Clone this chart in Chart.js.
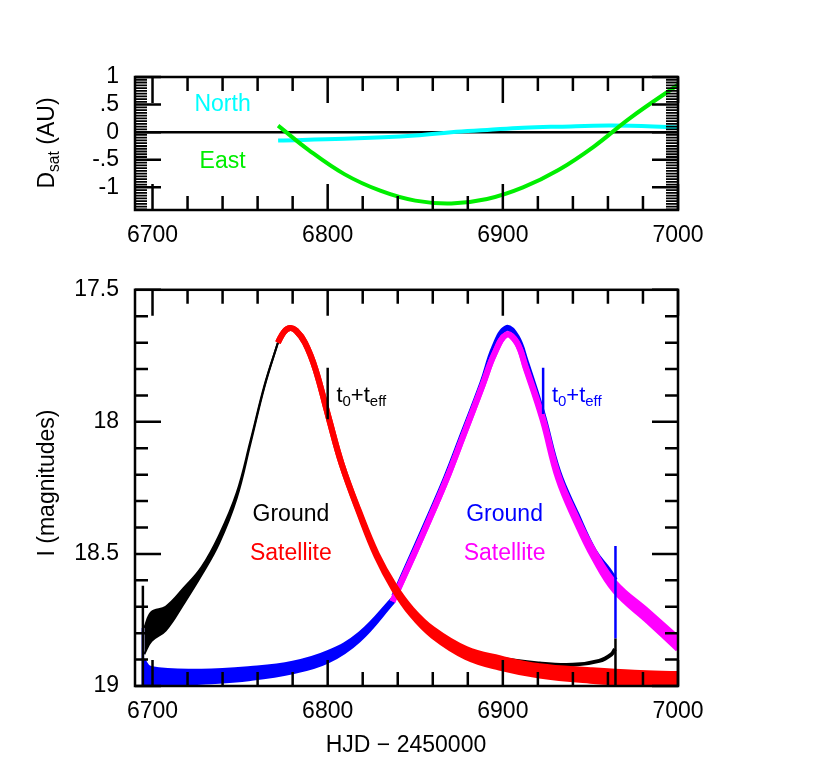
<!DOCTYPE html>
<html>
<head>
<meta charset="utf-8">
<script src="https://cdn.jsdelivr.net/npm/chart.js@4"></script>
<style>
  body { margin: 0; background: #fff; }
  #wrap { position: relative; width: 830px; height: 782px; }
  canvas { position: absolute; left: 0; }
</style>
</head>
<body>
<div id="wrap">
  <canvas id="topChart" style="top:0" width="830" height="260"></canvas>
  <canvas id="lightChart" style="top:260px" width="830" height="522"></canvas>
</div>
<script>
"use strict";

const FONT = "'Liberation Sans', Arial, sans-serif";

// ---- top panel: satellite offset (AU) ----
const satX      = [6771.7, 6789, 6809.5, 6830, 6850, 6870.6, 6891, 6911.5, 6932, 6952, 6972.8, 7000];
const eastAU    = [0.12, -0.32, -0.76, -1.06, -1.24, -1.29, -1.21, -1.0, -0.68, -0.26, 0.26, 0.86];
const northX    = [6771.7, 6809.5, 6850, 6870.6, 6891, 6911.5, 6932, 6962, 7000];
const northAU   = [-0.15, -0.12, -0.06, 0.0, 0.04, 0.08, 0.1, 0.12, 0.09];
const topYTicks = [1, 0.5, 0, -0.5, -1];
const topYLabels = ["1", ".5", "0", "-.5", "-1"];

// ---- bottom panel: light curves (I mag), band edges ----
const xTicks = [6700, 6800, 6900, 7000];
const magTicks = [17.5, 18, 18.5, 19];
const magLabels = ["17.5", "18", "18.5", "19"];

const blackLeftX     = [6695.3, 6699.4, 6707.5, 6717.7, 6728, 6738, 6748, 6756, 6764, 6771.6];
const blackLeftUpper = [18.78, 18.72, 18.70, 18.63, 18.55, 18.43, 18.27, 18.07, 17.86, 17.70];
const blackLeftLower = [18.88, 18.83, 18.79, 18.69, 18.58, 18.46, 18.29, 18.08, 17.865, 17.70];
const blackRightX    = [6800.4, 6808, 6818, 6828, 6838, 6848, 6860, 6879, 6898, 6921, 6940, 6955, 6962, 6964];
const blackRightMag  = [17.98, 18.16, 18.34, 18.50, 18.62, 18.71, 18.785, 18.86, 18.895, 18.915, 18.92, 18.905, 18.88, 18.86];

const redX     = [6771.6, 6775, 6778.5, 6782, 6787, 6793, 6800.4, 6808, 6818, 6828, 6838, 6848, 6860, 6879, 6898, 6921, 6950, 6975, 7000];
const redUpper = [17.70, 17.66, 17.645, 17.655, 17.70, 17.80, 17.98, 18.16, 18.34, 18.50, 18.62, 18.71, 18.785, 18.86, 18.895, 18.925, 18.94, 18.95, 18.955];
const redLower = [17.70, 17.66, 17.645, 17.655, 17.70, 17.80, 17.98, 18.16, 18.345, 18.51, 18.635, 18.73, 18.81, 18.89, 18.93, 18.96, 18.98, 18.99, 19.0];

const blueLeftX     = [6695, 6699, 6728, 6756, 6780, 6800, 6818, 6838];
const blueLeftUpper = [18.9, 18.93, 18.94, 18.93, 18.91, 18.87, 18.80, 18.66];
const blueLeftLower = [19.0, 19.0, 18.99, 18.975, 18.95, 18.91, 18.83, 18.68];
const blueRightX    = [6838, 6848.7, 6858, 6867.7, 6877, 6888.5, 6895, 6902, 6908, 6913, 6922.6, 6931.6, 6942, 6952, 6960, 6964];
const blueRightMag  = [18.66, 18.50, 18.36, 18.21, 18.05, 17.85, 17.72, 17.645, 17.68, 17.77, 17.97, 18.19, 18.35, 18.49, 18.56, 18.6];

const magX     = [6837, 6848.7, 6858, 6867.7, 6877, 6888.5, 6895, 6902, 6908, 6913, 6922.6, 6931.6, 6942, 6952, 6964, 6983, 7000];
const magUpper = [18.68, 18.51, 18.37, 18.22, 18.06, 17.86, 17.745, 17.67, 17.70, 17.79, 17.98, 18.20, 18.36, 18.49, 18.61, 18.72, 18.82];
const magLower = [18.68, 18.51, 18.37, 18.22, 18.06, 17.86, 17.745, 17.67, 17.70, 17.795, 17.99, 18.215, 18.38, 18.515, 18.64, 18.755, 18.86];

// vertical marks: [x, magFrom, magTo]
const blackSpikes = [[6694.5, 18.62, 19.0], [6964.3, 18.82, 19.0], [6800, 17.795, 17.99]];
const blueSpikes  = [[6694.5, 18.78, 19.0], [6964.3, 18.47, 18.82], [6923, 17.795, 17.97]];

const pts = (xs, ys) => xs.map((x, i) => ({ x, y: ys[i] }));

function curve(data, color, width, order, extra = {}) {
  return Object.assign({
    data, order, borderColor: color, backgroundColor: color, borderWidth: width,
    pointRadius: 0, showLine: true, tension: 0.4, fill: false,
  }, extra);
}

function spikeSets(list, color) {
  return list.map(([x, a, b]) => curve([{ x, y: a }, { x, y: b }], color, 2.5, 0, { tension: 0 }));
}

// inward tick marks + frame drawn on the library's scales
function frameTicks(opts) {
  return {
    id: "frameTicks",
    afterDatasetsDraw(chart) {
      const { ctx, chartArea: a, scales } = chart;
      ctx.save();
      ctx.strokeStyle = "#000";
      const xs = scales.x, ys = scales.y;
      const tickX = (v, len) => {
        const p = xs.getPixelForValue(v);
        ctx.beginPath();
        ctx.moveTo(p, a.bottom); ctx.lineTo(p, a.bottom - len);
        ctx.moveTo(p, a.top); ctx.lineTo(p, a.top + len);
        ctx.stroke();
      };
      const tickY = (v, len) => {
        const p = ys.getPixelForValue(v);
        ctx.beginPath();
        ctx.moveTo(a.left, p); ctx.lineTo(a.left + len, p);
        ctx.moveTo(a.right, p); ctx.lineTo(a.right - len, p);
        ctx.stroke();
      };
      ctx.lineWidth = 2.5;
      for (let v = opts.xStart; v <= xs.max + 1e-6; v += opts.xMinor) {
        const major = Math.abs(v / opts.xMajor - Math.round(v / opts.xMajor)) < 1e-6;
        tickX(v, major ? opts.majorLen : opts.minorLen);
      }
      const yhi = Math.max(ys.min, ys.max);
      const steps = Math.round((yhi - opts.yStart) / opts.yMinor);
      for (let i = 0; i <= steps; i++) {
        const v = opts.yStart + i * opts.yMinor;
        const major = Math.abs(v / opts.yMajor - Math.round(v / opts.yMajor)) < 1e-6;
        ctx.lineWidth = major ? 2.5 : opts.yMinorWidth;
        tickY(v, major ? opts.majorLen : opts.yMinorLen);
      }
      ctx.lineWidth = 2.5;
      ctx.strokeRect(a.left, a.top, a.right - a.left, a.bottom - a.top);
      ctx.restore();
    },
  };
}

function subText(ctx, parts, x, y, size) {
  let cx = x;
  parts.forEach(([t, sub]) => {
    ctx.font = `${sub ? size * 0.68 : size}px ${FONT}`;
    ctx.fillText(t, cx, sub ? y + size * 0.28 : y);
    cx += ctx.measureText(t).width;
  });
}

function baseScales(yMin, yMax, yTicks, yLabels, reverse) {
  return {
    x: {
      type: "linear", min: 6690, max: 7000,
      afterBuildTicks: (s) => { s.ticks = xTicks.map((v) => ({ value: v })); },
      afterFit: (s) => { s.height = s.chart.height - s.chart.options.plotBottom; },
      grid: { display: false, drawTicks: false }, border: { display: false },
      ticks: { color: "#000", font: { family: FONT, size: 23 }, padding: 12, maxRotation: 0, autoSkip: false,
               callback: (v) => String(v) },
    },
    y: {
      type: "linear", min: yMin, max: yMax, reverse,
      afterBuildTicks: (s) => { s.ticks = yTicks.map((v) => ({ value: v })); },
      afterFit: (s) => { s.width = 135; },
      grid: { display: false, drawTicks: false }, border: { display: false },
      ticks: {
        color: "#000", font: { family: FONT, size: 23 }, padding: 16, autoSkip: false,
        callback: (v) => yLabels[yTicks.indexOf(v)] ?? "",
      },
    },
  };
}

// ---------- top chart ----------
new Chart(document.getElementById("topChart"), {
  type: "scatter",
  data: {
    datasets: [
      curve([{ x: 6690, y: 0 }, { x: 7000, y: 0 }], "#000", 2.5, 2),
      curve(pts(northX, northAU), "#00ffff", 4, 1),
      curve(pts(satX, eastAU), "#00ee00", 4, 0),
    ],
  },
  options: {
    responsive: false, animation: false, plotBottom: 210,
    layout: { padding: { top: 77, right: 152, left: 0, bottom: 0 } },
    plugins: { legend: { display: false }, tooltip: { enabled: false } },
    scales: baseScales(-1.41, 1, topYTicks, topYLabels, false),
  },
  plugins: [
    frameTicks({ xStart: 6700, xMinor: 20, xMajor: 100, yStart: -1.4, yMinor: 0.05, yMajor: 0.5,
                 majorLen: 26, minorLen: 14, yMinorLen: 12, yMinorWidth: 1.8 }),
    {
      id: "topText",
      afterDraw(chart) {
        const { ctx, scales } = chart;
        ctx.save();
        ctx.textAlign = "center"; ctx.textBaseline = "middle";
        ctx.font = `23px ${FONT}`;
        ctx.fillStyle = "#00ffff";
        ctx.fillText("North", scales.x.getPixelForValue(6740), scales.y.getPixelForValue(0.5));
        ctx.fillStyle = "#00ee00";
        ctx.fillText("East", scales.x.getPixelForValue(6740), scales.y.getPixelForValue(-0.53));
        ctx.translate(48, 143);
        ctx.rotate(-Math.PI / 2);
        ctx.fillStyle = "#000";
        ctx.textAlign = "left";
        ctx.font = `23px ${FONT}`;
        const w = ctx.measureText("D").width + ctx.measureText("sat").width * 0.68 + ctx.measureText(" (AU)").width;
        subText(ctx, [["D", false], ["sat", true], [" (AU)", false]], -w / 2, 0, 23);
        ctx.restore();
      },
    },
  ],
});

// ---------- bottom chart ----------
new Chart(document.getElementById("lightChart"), {
  type: "scatter",
  data: {
    datasets: [
      curve(pts(blackLeftX, blackLeftLower), "#000", 2, 3),
      curve(pts(blackLeftX, blackLeftUpper), "#000", 2, 3, { fill: "-1" }),
      curve(pts(blueLeftX, blueLeftLower), "#0000ff", 3, 3),
      curve(pts(blueLeftX, blueLeftUpper), "#0000ff", 3, 3, { fill: "-1" }),
      curve(pts(blackRightX, blackRightMag), "#000", 4, 2),
      curve(pts(blueRightX, blueRightMag), "#0000ff", 6, 2),
      ...spikeSets(blackSpikes, "#000"),
      ...spikeSets(blueSpikes, "#0000ff"),
      curve(pts(redX, redLower), "#ff0000", 6, 1),
      curve(pts(redX, redUpper), "#ff0000", 6, 1, { fill: "-1" }),
      curve(pts(magX, magLower), "#ff00ff", 6, 1),
      curve(pts(magX, magUpper), "#ff00ff", 6, 1, { fill: "-1" }),
    ],
  },
  options: {
    responsive: false, animation: false, plotBottom: 426,
    layout: { padding: { top: 21, right: 152, left: 0, bottom: 0 } },
    plugins: { legend: { display: false }, tooltip: { enabled: false }, filler: { propagate: false } },
    scales: baseScales(17.5, 19, magTicks, magLabels, true),
  },
  plugins: [
    frameTicks({ xStart: 6700, xMinor: 20, xMajor: 100, yStart: 17.5, yMinor: 0.1, yMajor: 0.5,
                 majorLen: 26, minorLen: 14, yMinorLen: 13, yMinorWidth: 2.5 }),
    {
      id: "lightText",
      afterDraw(chart) {
        const { ctx, scales } = chart;
        const X = (v) => scales.x.getPixelForValue(v), Y = (v) => scales.y.getPixelForValue(v);
        ctx.save();
        ctx.textBaseline = "middle"; ctx.textAlign = "center";
        ctx.font = `23px ${FONT}`;
        [["Ground", "#000", 6779, 18.35], ["Satellite", "#ff0000", 6779, 18.5],
         ["Ground", "#0000ff", 6901, 18.35], ["Satellite", "#ff00ff", 6901, 18.5]].forEach(([t, c, x, y]) => {
          ctx.fillStyle = c; ctx.fillText(t, X(x), Y(y));
        });
        ctx.textAlign = "left";
        ctx.fillStyle = "#000";
        subText(ctx, [["t", false], ["0", true], ["+t", false], ["eff", true]], X(6805), Y(17.9), 22);
        ctx.fillStyle = "#0000ff";
        subText(ctx, [["t", false], ["0", true], ["+t", false], ["eff", true]], X(6928), Y(17.9), 22);
        ctx.fillStyle = "#000";
        ctx.textAlign = "center";
        ctx.font = `23px ${FONT}`;
        ctx.fillText("HJD \u2212 2450000", 406, 486);
        ctx.translate(48, 223);
        ctx.rotate(-Math.PI / 2);
        ctx.fillText("I (magnitudes)", 0, 0);
        ctx.restore();
      },
    },
  ],
});
</script>
</body>
</html>
